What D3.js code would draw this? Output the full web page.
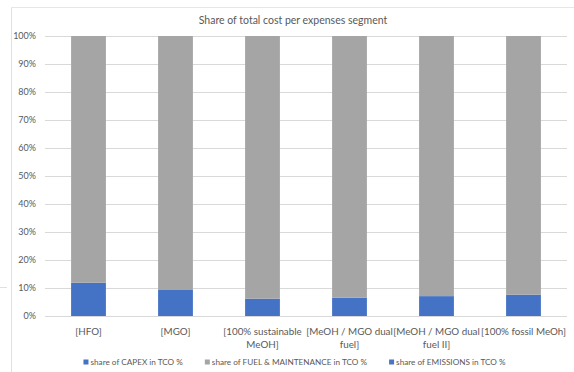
<!DOCTYPE html>
<html>
<head>
<meta charset="utf-8">
<script src="https://cdn.jsdelivr.net/npm/d3@7"></script>
<style>
  html, body { margin: 0; padding: 0; background: #fff; }
  svg { display: block; font-family: Lato, "Open Sans", sans-serif; }
</style>
</head>
<body>
<svg id="chart" width="574" height="372"></svg>
<script>
// Cost segments per fuel concept (percent of total cost of ownership)
const categories = ["[HFO]", "[MGO]", "[100% sustainable MeOH]", "[MeOH / MGO dual fuel]", "[MeOH / MGO dual fuel II]", "[100% fossil MeOh]"];
const capexShare = [11.9, 9.5, 6.2, 6.5, 7.1, 7.6];
const fuelMaintenanceShare = [88.1, 90.5, 93.8, 93.5, 92.9, 92.4];
const emissionsShare = [0, 0, 0, 0, 0, 0];
const seriesNames = ["share of CAPEX in TCO %", "share of FUEL & MAINTENANCE in TCO %", "share of EMISSIONS in TCO %"];
const seriesColors = ["#4472C4", "#A5A5A5", "#4A74C6"];
const yTicks = [0, 0.1, 0.2, 0.3, 0.4, 0.5, 0.6, 0.7, 0.8, 0.9, 1.0];
const title = "Share of total cost per expenses segment";

const svg = d3.select("#chart");
const textColor = "#595959";

// chart frame
svg.append("line").attr("x1", 11.5).attr("x2", 574).attr("y1", 7.5).attr("y2", 7.5).attr("stroke", "#e6e6e6");
svg.append("line").attr("x1", 11.5).attr("x2", 11.5).attr("y1", 7.5).attr("y2", 372).attr("stroke", "#e0e0e0");
svg.append("line").attr("x1", 0).attr("x2", 7).attr("y1", 287.5).attr("y2", 287.5).attr("stroke", "#e0e0e0");

const x = d3.scaleBand().domain(categories).range([45, 567]).paddingInner(0.6).paddingOuter(0.3);
const y = d3.scaleLinear().domain([0, 1]).range([316, 36]);

// title
svg.append("text").attr("x", 293).attr("y", 24).attr("text-anchor", "middle")
  .attr("font-size", 10.5).attr("fill", textColor).text(title);

// gridlines + y labels
const yAxis = d3.axisLeft(y).tickValues(yTicks).tickFormat(d3.format(".0%"))
  .tickSize(-(567 - 45)).tickPadding(9);
const gy = svg.append("g").attr("transform", "translate(45,0)").call(yAxis);
gy.select(".domain").remove();
gy.selectAll(".tick line").attr("stroke", "#d9d9d9");
gy.selectAll(".tick text").attr("fill", textColor).attr("font-size", 9)
  .attr("font-family", "Lato, sans-serif");

// stacked bars
const rows = categories.map((c, i) => ({
  category: c,
  capex: capexShare[i] / 100,
  fuel: fuelMaintenanceShare[i] / 100,
  emissions: emissionsShare[i] / 100
}));
const keys = ["capex", "fuel", "emissions"];
const stacked = d3.stack().keys(keys)(rows);

svg.append("g").selectAll("g").data(stacked).join("g")
  .attr("fill", (d, i) => seriesColors[i])
  .selectAll("rect").data(d => d).join("rect")
  .attr("x", d => x(d.data.category))
  .attr("width", x.bandwidth())
  .attr("y", d => y(d[1]))
  .attr("height", d => Math.max(0, y(d[0]) - y(d[1])));

// category labels, wrapped to the available width
const maxW = 90;
const catG = svg.append("g");
categories.forEach(c => {
  const cxl = x(c) + x.bandwidth() / 2;
  const t = catG.append("text").attr("x", cxl).attr("y", 335)
    .attr("text-anchor", "middle").attr("font-size", 9.8).attr("fill", textColor);
  const words = c.split(" ");
  let line = [];
  let tspan = t.append("tspan").attr("x", cxl).attr("dy", 0);
  words.forEach(w => {
    line.push(w);
    tspan.text(line.join(" "));
    if (tspan.node().getComputedTextLength() > maxW && line.length > 1) {
      line.pop();
      tspan.text(line.join(" "));
      line = [w];
      tspan = t.append("tspan").attr("x", cxl).attr("dy", 12.5).text(w);
    }
  });
});

// legend
const legend = svg.append("g");
let cx = 0;
const gap = 22;
seriesNames.forEach((name, i) => {
  const g = legend.append("g");
  g.append("rect").attr("x", 0).attr("y", -5.5).attr("width", 5).attr("height", 5).attr("fill", seriesColors[i]);
  const t = g.append("text").attr("x", 7).attr("y", 0).attr("font-size", 8.2).attr("fill", textColor).text(name);
  const w = 7 + t.node().getComputedTextLength();
  g.attr("transform", `translate(${cx},0)`);
  cx += w + gap;
});
const total = cx - gap;
legend.attr("transform", `translate(${294.5 - total / 2},365)`);
</script>
</body>
</html>
